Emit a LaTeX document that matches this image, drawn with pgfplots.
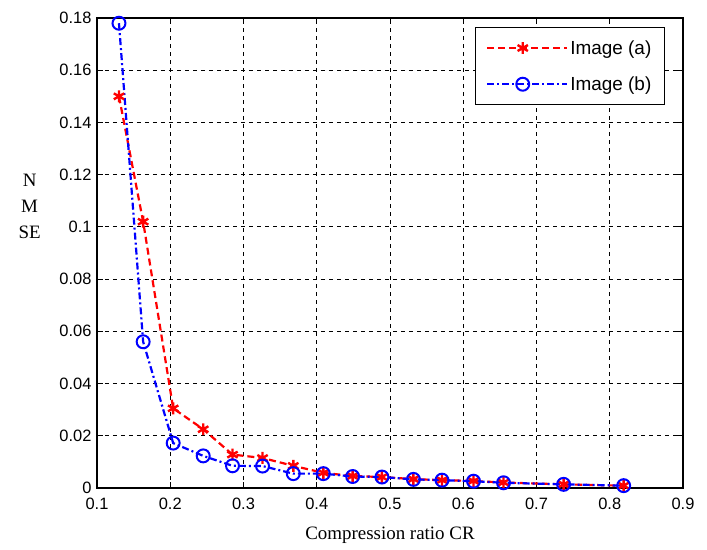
\documentclass[border=0pt]{standalone}
\usepackage{fontspec}
\setmainfont{Liberation Serif}
\newfontfamily\arial{Liberation Sans}
\usepackage{pgfplots}
\pgfplotsset{compat=1.18}

\begin{document}
\begin{tikzpicture}
\begin{axis}[
  name=ax,
  scale only axis,
  width=586bp, height=470bp,
  xmin=0.1, xmax=0.9, ymin=0, ymax=0.18,
  xtick={0.1,0.2,...,0.9},
  ytick={0,0.02,...,0.18},
  yticklabel style={/pgf/number format/fixed,/pgf/number format/precision=2, xshift=-2bp},
  xticklabel style={/pgf/number format/fixed, yshift=-7bp},
  scaled y ticks=false,
  /pgf/number format/assume math mode=true,
  ticklabel style={font=\arial\fontsize{16.5}{18}\selectfont},
  tick align=inside,
  tick style={black, line width=0.9pt},
  major tick length=6bp,
  grid=major,
  major grid style={black, dash pattern=on 4bp off 4bp, line width=0.9pt},
  axis line style={black, line width=1.3pt},
  xlabel={Compression ratio CR},
  xlabel style={font=\fontsize{19}{21}\selectfont,
    at={(axis description cs:0.5,0)}, anchor=center, yshift=-47bp},
  ylabel={N\\M\\SE},
  ylabel style={font=\fontsize{19}{26}\selectfont, align=center, rotate=-90,
    at={(axis description cs:-0.115,0.6)}, anchor=center},
  legend style={at={(axis description cs:0.969,0.981)}, anchor=north east,
    font=\arial\fontsize{19}{21}\selectfont, draw=black, line width=1pt,
    row sep=17bp, inner xsep=11bp, inner ysep=11bp},
  legend cell align=left,
  legend image code/.code={
    \path (0bp,0bp) -- (80bp,0bp);
    \draw[#1] (0bp,0bp) -- (71bp,0bp);
    \draw[#1, mark repeat=1] plot coordinates {(35.5bp,0bp)};
  },
]
\addplot[red, dash pattern=on 7bp off 4bp, line width=2.2pt, mark=asterisk, mark size=6pt,
  mark options={solid, line width=2.4pt}] coordinates {
(0.130,0.150)(0.163,0.102)(0.204,0.0305)(0.245,0.0225)(0.285,0.0128)
(0.326,0.0115)(0.368,0.0085)(0.409,0.0058)(0.449,0.0046)(0.489,0.0042)
(0.532,0.0034)(0.571,0.0030)(0.614,0.0027)(0.655,0.0021)(0.737,0.0014)(0.819,0.0009)
};
\addlegendentry{Image (a)}
\addplot[blue, dash pattern=on 7bp off 3bp on 2bp off 3bp, line width=2.2pt, mark=o, mark size=6.5pt,
  mark options={solid, line width=2pt}] coordinates {
(0.130,0.178)(0.163,0.056)(0.204,0.0172)(0.245,0.0123)(0.285,0.0085)
(0.326,0.0084)(0.368,0.0055)(0.409,0.0055)(0.449,0.0044)(0.489,0.0042)
(0.532,0.0033)(0.571,0.0030)(0.614,0.0026)(0.655,0.0020)(0.737,0.0014)(0.819,0.0009)
};
\addlegendentry{Image (b)}
\end{axis}
\path[use as bounding box] ([xshift=-97bp,yshift=-62bp]ax.south west) rectangle ([xshift=24bp,yshift=18bp]ax.north east);
\end{tikzpicture}
\end{document}
